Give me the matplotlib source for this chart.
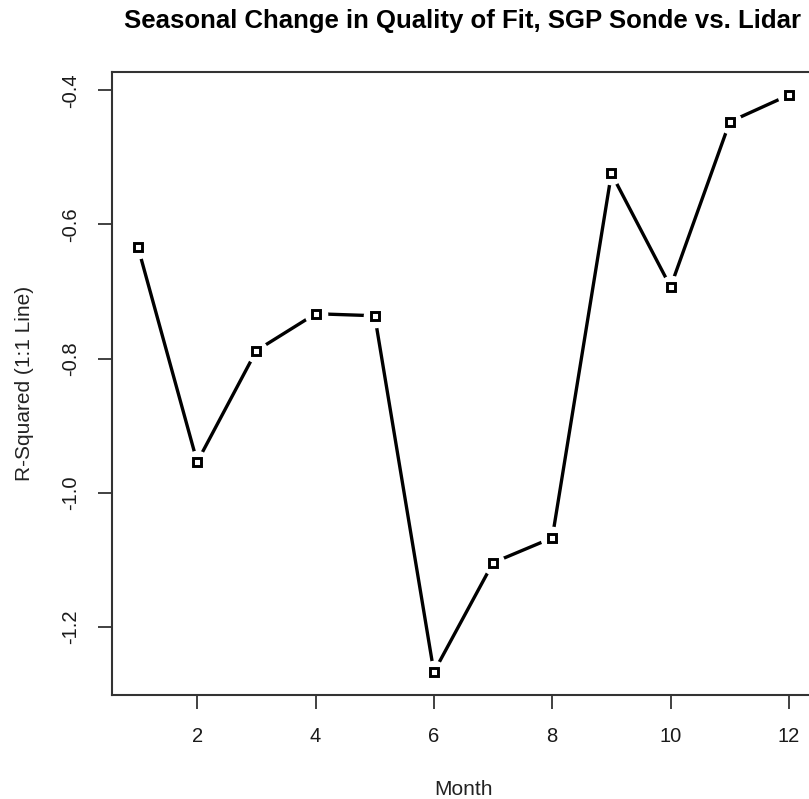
import matplotlib.pyplot as plt
import numpy as np

plt.rcParams['font.family'] = ['Liberation Sans', 'DejaVu Sans']
plt.rcParams['axes.unicode_minus'] = False

months = [1, 2, 3, 4, 5, 6, 7, 8, 9, 10, 11, 12]
r_squared = [-0.634, -0.954, -0.788, -0.733, -0.736, -1.267,
             -1.104, -1.067, -0.524, -0.693, -0.447, -0.407]

x_ticks = [2, 4, 6, 8, 10, 12]
y_ticks = [-1.2, -1.0, -0.8, -0.6, -0.4]

fig = plt.figure(figsize=(8.09, 7.99), dpi=100)
ax = fig.add_axes([0.1384, 0.130, 0.8690, 0.780])

# line with gaps around each point (like type="b"): white discs mask the line ends
ax.plot(months, r_squared, color='black', lw=2.4, zorder=2)
ax.plot(months, r_squared, ls='none', marker='o', ms=17, mfc='white', mec='none', zorder=3)
ax.plot(months, r_squared, ls='none', marker='s', ms=5.5, mfc='white', mec='black', mew=2.1, zorder=4)

# 4% padding on both axes
xr = max(months) - min(months)
ax.set_xlim(min(months) - 0.04 * xr, max(months) + 0.04 * xr)
yr = max(r_squared) - min(r_squared)
ax.set_ylim(min(r_squared) - 0.04 * yr, max(r_squared) + 0.04 * yr)

ax.set_xticks(x_ticks)
ax.set_xticklabels([str(t) for t in x_ticks])
ax.set_yticks(y_ticks)
ax.set_yticklabels(['%.1f' % t for t in y_ticks], rotation=90, va='center')

ax.tick_params(axis='both', direction='out', length=10, width=1.3, color='#333333',
               labelsize=14.5, labelcolor='#1a1a1a', pad=13)

for s in ax.spines.values():
    s.set_linewidth(1.5)
    s.set_color('#333333')

ax.set_xlabel('Month', fontsize=15, color='#222222')
ax.set_ylabel('R-Squared (1:1 Line)', fontsize=15, color='#222222')
ax.xaxis.set_label_coords(0.5, -0.136)
ax.yaxis.set_label_coords(-0.111, 0.5)

fig.text(463 / 809, 1 - 21 / 799, 'Seasonal Change in Quality of Fit, SGP Sonde vs. Lidar',
         ha='center', va='center', fontsize=18.5, fontweight='bold', color='black')

fig.savefig('out.png', dpi=100)
